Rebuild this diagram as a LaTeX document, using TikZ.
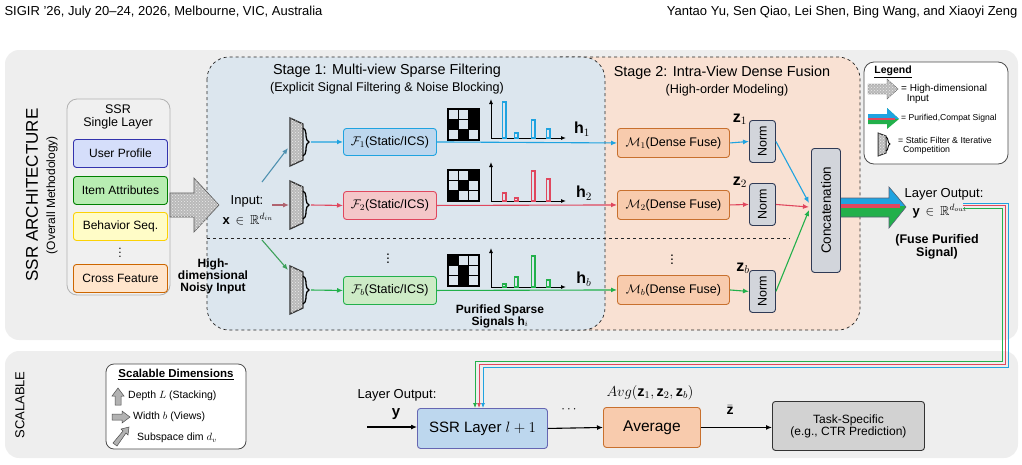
\RequirePackage{fix-cm}
\documentclass[tikz,border=0pt]{standalone}
\usepackage{amsmath,amssymb}
\usepackage{fontspec}
\setmainfont{Liberation Sans}
\usetikzlibrary{patterns,decorations.pathreplacing,arrows.meta,calc}
\definecolor{cB}{HTML}{1FA3E0}
\definecolor{cR}{HTML}{E0475E}
\definecolor{cG}{HTML}{22B04B}
\definecolor{panel}{HTML}{EEEEEE}
\definecolor{st1}{HTML}{DCE6EE}
\definecolor{st2}{HTML}{F9E1D3}
\definecolor{fBf}{HTML}{BDD7EE}
\definecolor{fRf}{HTML}{F4C7C9}
\definecolor{fGf}{HTML}{CDEBC6}
\definecolor{mF}{HTML}{F8CBAD}
\definecolor{mD}{HTML}{C8702E}
\definecolor{nF}{HTML}{D2D5DB}
\definecolor{nD}{HTML}{2F3A55}
\newcommand{\fs}[1]{\fontsize{#1}{#1}\selectfont}
\begin{document}
\begin{tikzpicture}[x=1pt,y=-1pt,
  box/.style={rounded corners=3pt,line width=0.9pt,inner sep=0pt,anchor=north west},
  arr/.style={-{Latex[length=6pt,width=5pt]},line width=1.1pt},
  noisy/.style={fill=gray!55,draw=gray!70!black,line width=0.6pt,postaction={pattern=crosshatch dots,pattern color=white!85!gray}},
]
\useasboundingbox (0,0) rectangle (1022,464);
% header
\node[anchor=west,font=\fs{13}] (hl) at (1,12) {SIGIR '26, July 20--24, 2026, Melbourne, VIC, Australia};
\node[anchor=east,font=\fs{13}] (hr) at (1021,12) {Yantao Yu, Sen Qiao, Lei Shen, Bing Wang, and Xiaoyi Zeng};
% panels
\fill[panel,rounded corners=14pt] (5,50) rectangle (1018,340);
\fill[panel,rounded corners=14pt] (5,351) rectangle (1018,458);
\node[rotate=90,font=\fs{17}] (t1) at (32,195) {SSR ARCHITECTURE};
\node[rotate=90,font=\fs{12}] (t2) at (52,195) {(Overall Methodology)};
\node[rotate=90,font=\fs{13}] (t3) at (20,405) {SCALABLE};
% stage regions
\draw[st2,fill=st2,rounded corners=22pt] (560,57) rectangle (860,330);
\draw[dashed,gray!30!black,line width=0.7pt,rounded corners=22pt] (560,57) -| (860,330) -- (560,330);
\fill[st1,rounded corners=22pt] (207,57) rectangle (605,330);
\draw[dashed,gray!30!black,line width=0.7pt,rounded corners=22pt] (207,57) rectangle (605,330);
\draw[dashed,gray!30!black,line width=0.7pt] (207,238) -- (790,238);
\node[font=\fs{14.4}] (s1) at (387,71) {Stage 1: Multi-view Sparse Filtering};
\node[font=\fs{12.6}] (s1b) at (387,88) {(Explicit Signal Filtering \& Noise Blocking)};
\node[font=\fs{14.4}] (s2) at (722,73) {Stage 2: Intra-View Dense Fusion};
\node[font=\fs{12.6}] (s2b) at (727,90) {(High-order Modeling)};
% SSR single layer
\draw[gray!60,fill=gray!12,rounded corners=10pt,line width=0.8pt] (67,99) rectangle (170,295);
\node[align=center,font=\fs{12.5},inner sep=0pt] (ssrt) at (118,117) {SSR\\[1pt]Single Layer};
\node[box,draw=blue!60!black!80,fill=fBf!80!blue!40,minimum width=94pt,minimum height=28pt] (up) at (73,139) {};
\node[font=\fs{12}] at (up.center) {User Profile};
\node[box,draw=green!50!black,fill=fGf!90!green,minimum width=94pt,minimum height=28pt] (ia) at (73,176) {};
\node[font=\fs{12}] at (ia.center) {Item Attributes};
\node[box,draw=yellow!70!orange,fill=yellow!22,minimum width=94pt,minimum height=28pt] (bs) at (73,212) {};
\node[font=\fs{12}] at (bs.center) {Behavior Seq.};
\node[font=\fs{12}] (vd) at (120,250) {$\vdots$};
\node[box,draw=orange!80!black,fill=orange!20,minimum width=94pt,minimum height=28pt] (cf) at (73,264) {};
\node[font=\fs{12}] at (cf.center) {Cross Feature};
% big noisy arrow
\draw[noisy] (170,193) -- (194,193) -- (194,178) -- (219,205) -- (194,232) -- (194,217) -- (170,217) -- cycle;
\node[font=\fs{13},inner sep=0pt] (inp) at (247,201) {Input:};
\node[font=\fs{13},inner sep=0pt] (inx) at (248,219) {$\mathbf{x}\,\in\,\mathbb{R}^{d_{in}}$};
\node[font=\bfseries\fs{12},align=center,inner sep=0pt] (hd) at (213,276) {High-\\dimensional\\Noisy Input};
% filters
\foreach \y/\n in {142/1,205/2,290/3}{
  \draw[noisy,line width=1.3pt,draw=black!80] (290,\y-24) -- (303,\y-18) -- (303,\y+18) -- (290,\y+24) -- cycle;
  \draw[line width=1.3pt,decorate,decoration={brace,amplitude=6pt}] (303,\y-14) -- (303,\y+14);
  \coordinate (fo\n) at (311,\y);
}
\draw[arr,color=cB!50!gray] (262,182) -- (288,148);
\draw[arr,color=cR!50!gray] (272,205) -- (289,205);
\draw[arr,color=cG!70!gray] (262,240) -- (288,270);
% F boxes
\node[box,draw=cB,fill=fBf,minimum width=93pt,minimum height=27pt] (F1) at (343,128) {};
\node[font=\fs{12.5}] at (F1.center) {$\mathcal{F}_1$(Static/ICS)};
\node[box,draw=cR,fill=fRf,minimum width=93pt,minimum height=28pt] (F2) at (343,191) {};
\node[font=\fs{12.5}] at (F2.center) {$\mathcal{F}_2$(Static/ICS)};
\node[box,draw=cG,fill=fGf,minimum width=93pt,minimum height=28pt] (F3) at (343,276) {};
\node[font=\fs{12.5}] at (F3.center) {$\mathcal{F}_b$(Static/ICS)};
\node[font=\fs{14}] (vd2) at (388,256) {$\vdots$};
\draw[arr,cB] (fo1) -- (F1.west);
\draw[arr,cR] (fo2) -- (F2.west);
\draw[arr,cG] (fo3) -- (F3.west);
% M boxes
\node[box,draw=mD,fill=mF,minimum width=112pt,minimum height=29pt] (M1) at (617,128) {};
\node[font=\fs{12.5}] at (M1.center) {$\mathcal{M}_1$(Dense Fuse)};
\node[box,draw=mD,fill=mF,minimum width=112pt,minimum height=29pt] (M2) at (617,190) {};
\node[font=\fs{12.5}] at (M2.center) {$\mathcal{M}_2$(Dense Fuse)};
\node[box,draw=mD,fill=mF,minimum width=112pt,minimum height=29pt] (M3) at (617,275) {};
\node[font=\fs{12.5}] at (M3.center) {$\mathcal{M}_b$(Dense Fuse)};
\node[font=\fs{14}] (vd3) at (672,257) {$\vdots$};
\draw[arr,cB] (F1.east) -- (M1.west);
\draw[arr,cR] (F2.east) -- (M2.west);
\draw[arr,cG] (F3.east) -- (M3.west);
% grids and bars
\foreach \gy/\pat/\oy/\col/\ba/\bb/\bc/\bd in {
 109/{0,0,1,1,0,1,0,1,0}/138/cB/36/5/18/9,
 170/{0,0,1,0,1,0,1,0,0}/201/cR/8/3/30/22,
 255/{1,0,0,0,1,0,0,1,0}/287/cG/3/10/31/7}{
  \foreach \v [count=\k from 0] in \pat {
    \pgfmathsetmacro\cx{448+mod(\k,3)*10.3}
    \pgfmathsetmacro\cy{\gy+floor(\k/3)*10.3}
    \ifnum\v=1 \fill[black] (\cx,\cy) rectangle ++(10.3,10.3);\fi
  }
  \foreach \i in {1,2}{
    \draw[line width=1.2pt] (448+\i*10.3,\gy) -- (448+\i*10.3,\gy+30.9);
    \draw[line width=1.2pt] (448,\gy+\i*10.3) -- (478.9,\gy+\i*10.3);
  }
  \draw[line width=1.2pt] (448,\gy) rectangle (478.9,\gy+30.9);
  \draw[-{Latex[length=5pt,width=4pt]},line width=1pt] (491,\oy) -- (491,\oy-39);
  \draw[-{Latex[length=5pt,width=4pt]},line width=1pt] (491,\oy) -- (566,\oy);
  \draw[\col,line width=1.2pt] (502.5,\oy) rectangle (506,\oy-\ba);
  \draw[\col,line width=1.2pt] (514.5,\oy) rectangle (518,\oy-\bb);
  \draw[\col,line width=1.2pt] (531.5,\oy) rectangle (535,\oy-\bc);
  \draw[\col,line width=1.2pt] (546.5,\oy) rectangle (550,\oy-\bd);
}
\node[font=\fs{16}] (h1) at (582,129) {$\mathbf{h}_1$};
\node[font=\fs{16}] (h2) at (584,193) {$\mathbf{h}_2$};
\node[font=\fs{16}] (hb) at (584,279) {$\mathbf{h}_b$};
\node[font=\bfseries\fs{12},align=center,inner sep=0pt] (pss) at (500,316) {Purified Sparse\\Signals $\mathbf{h}_i$};
% Norm
\foreach \n/\y in {1/120,2/183,3/270}{
  \node[box,draw=nD,fill=nF,minimum width=26pt,minimum height=42pt] (N\n) at (749,\y) {};
  \node[rotate=90,font=\fs{12.5}] at (N\n.center) {Norm};
}
\node[font=\fs{16}] (z1) at (740,119) {$\mathbf{z}_1$};
\node[font=\fs{16}] (z2) at (740,182) {$\mathbf{z}_2$};
\node[font=\fs{16}] (zb) at (743,268) {$\mathbf{z}_b$};
\draw[arr,cB] (M1.east) -- (N1.west);
\draw[arr,cR] (M2.east) -- (N2.west);
\draw[arr,cG] (M3.east) -- (N3.west);
\node[box,draw=nD,fill=nF,minimum width=29pt,minimum height=124pt] (C) at (811,148) {};
\node[rotate=90,font=\fs{13.5}] at (C.center) {Concatenation};
\draw[arr,cB] (N1.east) -- (809,203);
\draw[arr,cR] (N2.east) -- (809,207);
\draw[arr,cG] (N3.east) -- (809,210);
% tricolor arrow
\fill[cG] (841,198) -- (889,198) -- (889,187) -- (906,207) -- (889,228) -- (889,217) -- (841,217) -- cycle;
\begin{scope}
\clip (830,180) rectangle (910,205);
\fill[cB] (841,198) -- (889,198) -- (889,187) -- (906,207) -- (889,228) -- (889,217) -- (841,217) -- cycle;
\end{scope}
\fill[cR] (841,204) rectangle (900,207.5);
\draw[nD!80,line width=0.6pt] (841,198) -- (889,198) -- (889,187) -- (906,207) -- (889,228) -- (889,217) -- (841,217);
\node[font=\fs{13}] (lo) at (944,194) {Layer Output:};
\node[font=\fs{13}] (ly) at (940,211) {$\mathbf{y}\,\in\,\mathbb{R}^{d_{out}}$};
\node[font=\bfseries\fs{12.5},align=center,inner sep=0pt] (fps) at (937,247) {(Fuse Purified\\Signal)};
% legend
\draw[gray!60!black,fill=white,rounded corners=10pt,line width=0.8pt] (864,62) rectangle (1008,164);
\node[font=\bfseries\fs{10.5},inner sep=1pt] (lg) at (893,72) {\underline{Legend}};
\draw[noisy,line width=0.4pt] (868,84) -- (887,84) -- (887,79) -- (898,89) -- (887,99) -- (887,94) -- (868,94) -- cycle;
\node[anchor=west,font=\fs{10},align=left,inner sep=0pt] (l1) at (901,94) {= High-dimensional\\\ \ Input};
\fill[cG] (868,114) -- (887,114) -- (887,108) -- (899,119) -- (887,129) -- (887,124) -- (868,124) -- cycle;
\begin{scope}\clip (860,100) rectangle (905,118);
\fill[cB] (868,114) -- (887,114) -- (887,108) -- (899,119) -- (887,129) -- (887,124) -- (868,124) -- cycle;
\end{scope}
\fill[cR] (868,117.5) rectangle (895,120);
\node[anchor=west,font=\fs{8.6},inner sep=0pt] (l2) at (901,118) {= Purified,Compat Signal};
\draw[noisy,line width=1pt,draw=black!80] (878,133) -- (886,136) -- (886,153) -- (878,156) -- cycle;
\draw[line width=0.9pt,decorate,decoration={brace,amplitude=4pt}] (886,137) -- (886,151);
\node[anchor=west,font=\fs{8.8},align=left,inner sep=0pt] (l3) at (898,146) {= Static Filter \& Iterative\\\ \ Competition};
% output lines
\draw[cB,line width=0.8pt,-{Latex[length=5pt,width=4pt]}] (963,203) -- (1008,203) -- (1008,367) -- (483,367) -- (483,408);
\draw[cR,line width=0.8pt,-{Latex[length=5pt,width=4pt]}] (963,205.5) -- (1005,205.5) -- (1005,364) -- (479,364) -- (479,408);
\draw[cG,line width=0.8pt,-{Latex[length=5pt,width=4pt]}] (963,208) -- (1002,208) -- (1002,361) -- (475,361) -- (475,408);
% bottom
\draw[gray!60!black,fill=white,rounded corners=8pt,line width=0.8pt] (106,364) rectangle (246,449);
\node[font=\bfseries\fs{11.5},inner sep=1pt] (sdt) at (176,375) {\underline{Scalable Dimensions}};
\draw[fill=gray!60,draw=black!70,line width=0.5pt] (115,405) -- (115,396) -- (112,396) -- (118,388) -- (124,396) -- (121,396) -- (121,405) -- cycle;
\node[anchor=west,font=\fs{10.5},inner sep=0pt] (d1) at (128,396) {Depth $L$ (Stacking)};
\draw[fill=gray!60,draw=black!70,line width=0.5pt] (112,414) -- (122,414) -- (122,411) -- (130,417) -- (122,423) -- (122,420) -- (112,420) -- cycle;
\node[anchor=west,font=\fs{10.5},inner sep=0pt] (d2) at (133,417) {Width $b$ (Views)};
\draw[fill=gray!60,draw=black!70,line width=0.5pt] (113,443) -- (123,431) -- (121,429) -- (129,427) -- (128,435) -- (126,433) -- (117,446) -- cycle;
\node[anchor=west,font=\fs{10.5},inner sep=0pt] (d3) at (137,438) {Subspace dim $d_v$};
\node[box,draw=blue!50!black!60,fill=fBf,minimum width=130pt,minimum height=40pt] (S) at (417,408) {};
\node[font=\fs{15}] at (S.center) {SSR Layer $l+1$};
\node[font=\fs{13}] (lo2) at (397,395) {Layer Output:};
\node[font=\fs{15}] (ly2) at (396,414) {$\mathbf{y}$};
\coordinate (yin) at (367,427);
\draw[arr] (yin) -- (S.west |- yin);
\node[box,draw=mD,fill=mF,minimum width=97pt,minimum height=40pt] (A) at (603,407) {};
\node[font=\fs{15.5}] at (A.center) {Average};
\node[font=\fs{13}] (dots) at (570,410) {$\cdots$};
\draw[arr] (S.east) -- (A.west);
\node[font=\fs{14.5}] (avg) at (650,393) {$Avg(\mathbf{z}_1,\mathbf{z}_2,\mathbf{z}_b)$};
\node[box,draw=black!80,fill=gray!35,minimum width=152pt,minimum height=49pt] (T) at (772,401) {};
\node[font=\fs{12},align=center] at (T.center) {Task-Specific\\(e.g., CTR Prediction)};
\draw[arr] (A.east) -- (T.west |- A.east);
\node[font=\fs{14}] (zbar) at (730,410) {$\bar{\mathbf{z}}$};
\end{tikzpicture}
\end{document}
